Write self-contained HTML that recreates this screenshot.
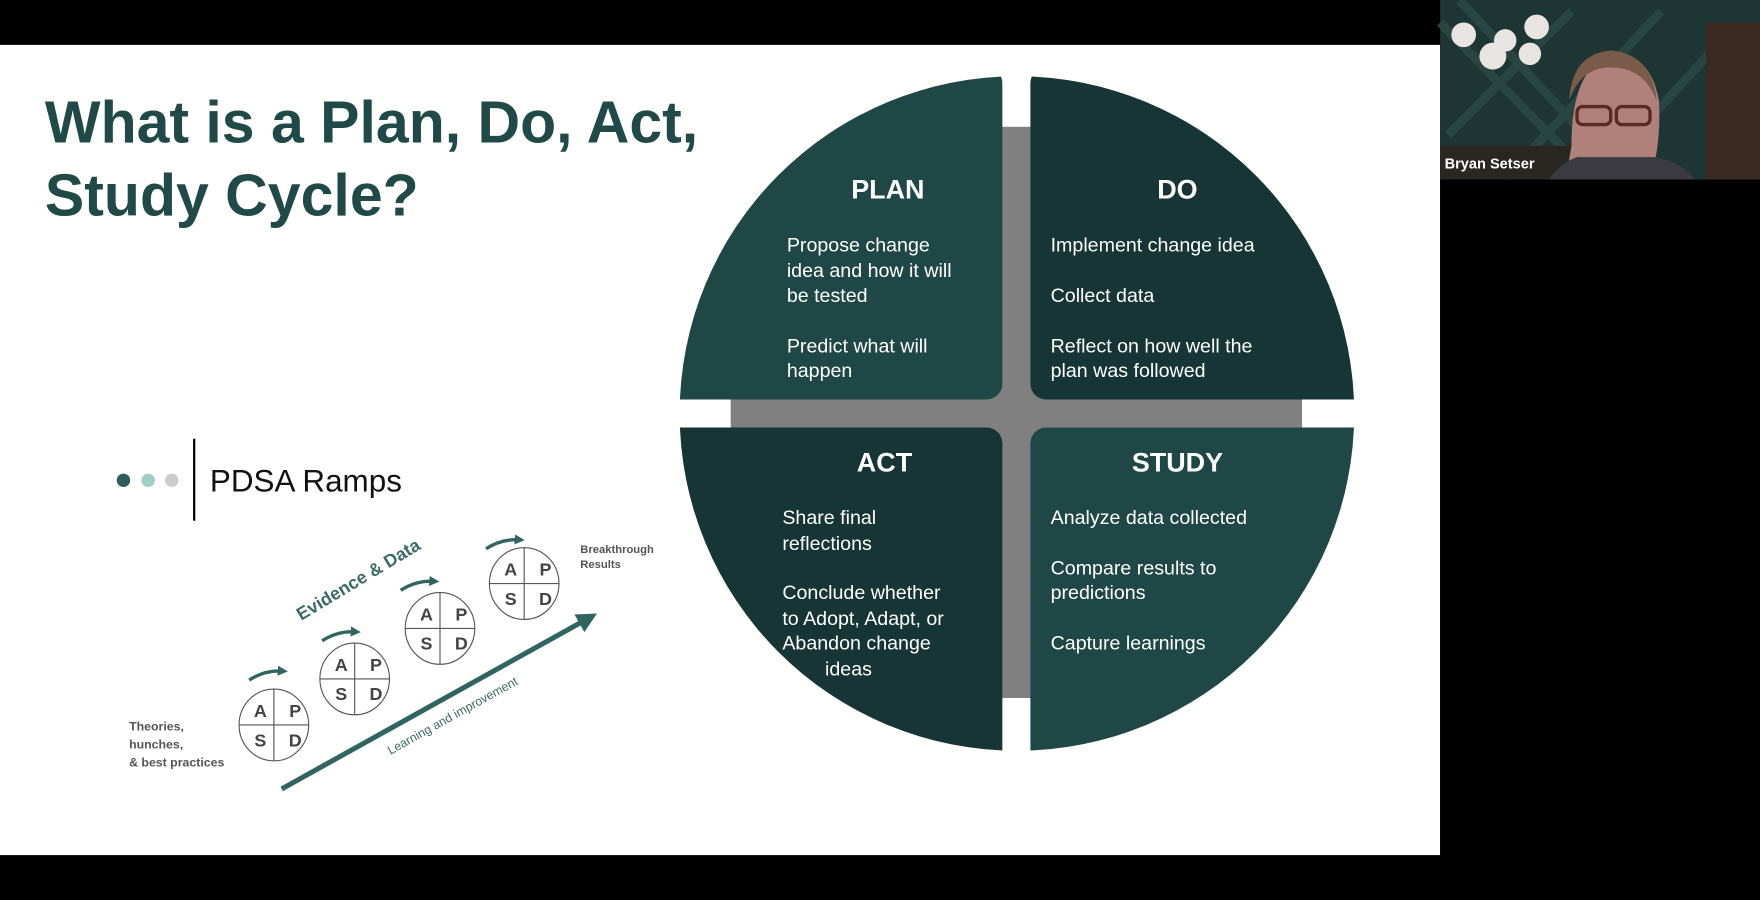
<!DOCTYPE html>
<html><head><meta charset="utf-8"><style>
html,body{margin:0;padding:0;background:#000;width:1760px;height:900px;overflow:hidden}
svg{display:block}
text{font-family:"Liberation Sans",sans-serif}
</style></head><body>
<svg width="1760" height="900" viewBox="0 0 1568 802" preserveAspectRatio="none" xmlns="http://www.w3.org/2000/svg">
<defs>
<clipPath id="circ"><circle cx="906" cy="368.5" r="300.5"/></clipPath>
<marker id="ah" markerWidth="4" markerHeight="4" refX="2.5" refY="2" orient="auto" markerUnits="strokeWidth"><path d="M0,0 L4,2 L0,4 Z" fill="#2f6560"/></marker>
<marker id="ah2" markerWidth="3" markerHeight="3" refX="1.5" refY="1.5" orient="auto" markerUnits="strokeWidth"><path d="M0,0 L3,1.5 L0,3 Z" fill="#2f6560"/></marker>
</defs>
<rect x="0" y="0" width="1568" height="802" fill="#000"/>
<rect x="0" y="40" width="1283" height="722" fill="#fff"/>

<text x="40" y="127" font-size="53" font-weight="bold" fill="#1f4a47" textLength="582" lengthAdjust="spacingAndGlyphs">What is a Plan, Do, Act,</text>
<text x="40" y="192" font-size="53" font-weight="bold" fill="#1f4a47" textLength="333" lengthAdjust="spacingAndGlyphs">Study Cycle?</text>

<rect x="886" y="113" width="40" height="509" fill="#808080"/>
<rect x="651" y="350" width="509" height="38" fill="#808080"/>
<g clip-path="url(#circ)">
<rect x="590" y="60" width="303" height="296" rx="14" fill="#1f4746"/>
<rect x="918" y="60" width="303" height="296" rx="14" fill="#163534"/>
<rect x="590" y="381" width="303" height="300" rx="14" fill="#163534"/>
<rect x="918" y="381" width="303" height="300" rx="14" fill="#1f4746"/>
</g>
<g fill="#fff">
<text x="791" y="177" font-size="24" font-weight="bold" text-anchor="middle">PLAN</text>
<text x="1049" y="177" font-size="24" font-weight="bold" text-anchor="middle">DO</text>
<text x="788" y="420" font-size="24" font-weight="bold" text-anchor="middle">ACT</text>
<text x="1049" y="420" font-size="24" font-weight="bold" text-anchor="middle">STUDY</text>
<g font-size="17.5">
<text x="701" y="224">Propose change</text>
<text x="701" y="247">idea and how it will</text>
<text x="701" y="269">be tested</text>
<text x="701" y="314">Predict what will</text>
<text x="701" y="336">happen</text>
<text x="936" y="224">Implement change idea</text>
<text x="936" y="269">Collect data</text>
<text x="936" y="314">Reflect on how well the</text>
<text x="936" y="336">plan was followed</text>
<text x="697" y="467">Share final</text>
<text x="697" y="490">reflections</text>
<text x="697" y="534">Conclude whether</text>
<text x="697" y="557">to Adopt, Adapt, or</text>
<text x="697" y="579">Abandon change</text>
<text x="735" y="602">ideas</text>
<text x="936" y="467">Analyze data collected</text>
<text x="936" y="512">Compare results to</text>
<text x="936" y="534">predictions</text>
<text x="936" y="579">Capture learnings</text>
</g>
</g>

<circle cx="110" cy="428" r="6" fill="#2f5e5a"/>
<circle cx="132" cy="428" r="6" fill="#9fcfc6"/>
<circle cx="153" cy="428" r="6" fill="#cccccc"/>
<rect x="172" y="391" width="2" height="73" fill="#000"/>
<text x="187" y="438" font-size="28" fill="#111">PDSA Ramps</text>

<g stroke="#555" stroke-width="1" fill="none">
<ellipse cx="244" cy="646" rx="31" ry="32"/><line x1="213" y1="646" x2="275" y2="646"/><line x1="244" y1="614" x2="244" y2="678"/>
<ellipse cx="316" cy="605" rx="31" ry="32"/><line x1="285" y1="605" x2="347" y2="605"/><line x1="316" y1="573" x2="316" y2="637"/>
<ellipse cx="392" cy="560" rx="31" ry="32"/><line x1="361" y1="560" x2="423" y2="560"/><line x1="392" y1="528" x2="392" y2="592"/>
<ellipse cx="467" cy="520" rx="31" ry="32"/><line x1="436" y1="520" x2="498" y2="520"/><line x1="467" y1="488" x2="467" y2="552"/>
</g>
<g font-size="16" font-weight="bold" fill="#444" text-anchor="middle">
<text x="232" y="639">A</text><text x="263" y="639">P</text><text x="232" y="665">S</text><text x="263" y="665">D</text>
<text x="304" y="598">A</text><text x="335" y="598">P</text><text x="304" y="624">S</text><text x="335" y="624">D</text>
<text x="380" y="553">A</text><text x="411" y="553">P</text><text x="380" y="579">S</text><text x="411" y="579">D</text>
<text x="455" y="513">A</text><text x="486" y="513">P</text><text x="455" y="539">S</text><text x="486" y="539">D</text>
</g>
<g stroke="#2f6560" stroke-width="3" fill="none" marker-end="url(#ah2)">
<path d="M222,606 Q236,597 252,598"/>
<path d="M287,571 Q301,562 317,563"/>
<path d="M357,526 Q371,517 387,518"/>
<path d="M433,489 Q447,480 463,481"/>
</g>
<line x1="251" y1="703" x2="526" y2="550" stroke="#2f6560" stroke-width="4.5" marker-end="url(#ah)"/>
<text x="322" y="521" font-size="16" font-weight="bold" fill="#3b6b66" text-anchor="middle" transform="rotate(-31 322 521)">Evidence &amp; Data</text>
<text x="405" y="641" font-size="11" fill="#3b6b66" text-anchor="middle" transform="rotate(-29 405 641)">Learning and improvement</text>
<g font-size="11" font-weight="bold" fill="#555">
<text x="115" y="651">Theories,</text>
<text x="115" y="667">hunches,</text>
<text x="115" y="683">&amp; best practices</text>
<text x="517" y="493" font-size="10">Breakthrough</text>
<text x="517" y="506" font-size="10">Results</text>
</g>

<rect x="1283" y="0" width="285" height="160" fill="#1d3533"/>
<g stroke="#2a4744" stroke-width="8" opacity="0.9">
<line x1="1283" y1="20" x2="1400" y2="140"/>
<line x1="1300" y1="0" x2="1440" y2="150"/>
<line x1="1340" y1="160" x2="1480" y2="10"/>
<line x1="1290" y1="120" x2="1400" y2="10"/>
<line x1="1420" y1="160" x2="1530" y2="40"/>
</g>
<rect x="1283" y="130" width="130" height="30" fill="#2a2622"/>
<rect x="1520" y="20" width="48" height="140" fill="#3a2a22"/>
<g fill="#e8e4e2">
<circle cx="1304" cy="31" r="11"/><circle cx="1341" cy="36" r="10"/><circle cx="1369" cy="24" r="11"/>
<circle cx="1330" cy="50" r="12"/><circle cx="1363" cy="48" r="10"/>
</g>
<path d="M1395,160 L1400,130 Q1400,60 1435,50 Q1470,45 1478,90 Q1480,130 1470,160 Z" fill="#b0807a"/>
<path d="M1398,90 Q1400,48 1435,45 Q1472,48 1476,90 Q1465,60 1435,60 Q1408,60 1398,90 Z" fill="#7a5a48"/>
<rect x="1405" y="95" width="30" height="16" rx="5" fill="none" stroke="#5a2a22" stroke-width="3"/>
<rect x="1440" y="95" width="30" height="16" rx="5" fill="none" stroke="#5a2a22" stroke-width="3"/>
<path d="M1380,160 Q1390,145 1405,140 L1475,140 Q1500,145 1510,160 Z" fill="#3a3a40"/>
<text x="1287" y="150" font-size="13" font-weight="bold" fill="#fff">Bryan Setser</text>
<rect x="1283" y="160" width="285" height="642" fill="#000"/>
</svg>
</body></html>
